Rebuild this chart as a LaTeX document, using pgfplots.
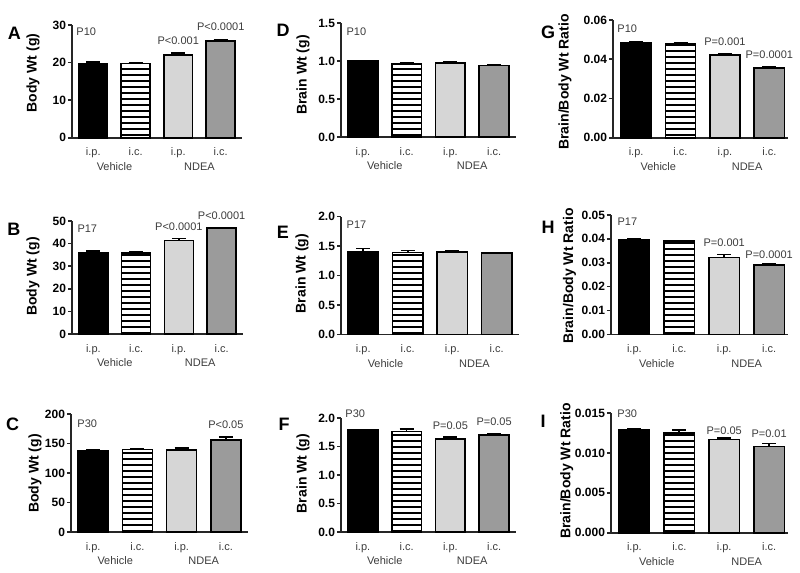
\documentclass[border=0pt]{standalone}
\usepackage{fontspec}
\setmainfont{Liberation Sans}
\usepackage{pgfplots}
\pgfplotsset{compat=1.18}
\usetikzlibrary{patterns.meta}

\definecolor{txtgray}{RGB}{60,60,60}
\definecolor{lightdot}{RGB}{214,214,214}
\definecolor{darkdot}{RGB}{155,155,155}

\tikzset{
  grp/.style={font=\fontsize{5.5}{6.5}\selectfont, text=txtgray, yshift=-14.5pt},
  pv/.style={font=\fontsize{5.5}{6.5}\selectfont, text=txtgray},
  pl/.style={font=\fontsize{5.5}{6.5}\selectfont, text=txtgray, anchor=west, inner sep=0pt},
  letter/.style={font=\bfseries\fontsize{9}{10}\selectfont},
}

\pgfplotsset{
  panel/.style={
    scale only axis, clip=false, anchor=south west,
    ybar, bar width=0.68,
    xmin=-0.5, xmax=3.5, ymin=0,
    axis x line=bottom, axis y line=left,
    axis line style={-, line width=0.8pt, black!85},
    xtick={0,1,2,3}, xticklabels={i.p.,i.c.,i.p.,i.c.},
    x tick style={draw=none},
    y tick style={line width=0.8pt, black!85},
    tick align=outside, major tick length=2pt,
    scaled y ticks=false,
    /pgf/number format/assume math mode=true,
    yticklabel style={font=\bfseries\fontsize{6}{7}\selectfont, inner sep=0.8pt},
    xticklabel style={font=\fontsize{5.5}{6.5}\selectfont, text=txtgray, yshift=0.5pt},
    ylabel style={font=\bfseries\fontsize{7}{8}\selectfont, anchor=center},
    error bars/y dir=plus, error bars/y explicit,
    error bars/error bar style={line width=0.8pt, black},
    error bars/error mark options={rotate=90, line width=0.8pt, black, mark size=3.5pt},
    execute at end axis={
      \node[grp] at (axis cs:0.5,0) {Vehicle};
      \node[grp] at (axis cs:2.5,0) {NDEA};
    },
  },
  prec1/.style={yticklabel style={/pgf/number format/fixed, /pgf/number format/fixed zerofill, /pgf/number format/precision=1}},
  prec2/.style={yticklabel style={/pgf/number format/fixed, /pgf/number format/fixed zerofill, /pgf/number format/precision=2}},
  prec3/.style={yticklabel style={/pgf/number format/fixed, /pgf/number format/fixed zerofill, /pgf/number format/precision=3}},
  b1/.style={bar shift=0pt, draw=black, line width=0.8pt, fill=black},
  b2/.style={bar shift=0pt, draw=black, line width=0.8pt, pattern={Lines[angle=0,distance=3pt,line width=0.8pt]}},
  b3/.style={bar shift=0pt, draw=black, line width=0.8pt, fill=lightdot},
  b4/.style={bar shift=0pt, draw=black, line width=0.8pt, fill=darkdot},
}

\begin{document}
\begin{tikzpicture}
\useasboundingbox (0,0) rectangle (400pt,-286.5pt);

% ---- column 1: body weight
\begin{axis}[panel, at={(36pt,-68.85pt)}, width=85pt, height=56.35pt,
  ymax=30, ytick={0,10,20,30}, ylabel={Body Wt (g)},
  ylabel style={at={(rel axis cs:-0.229,0.574)}}]
\addplot[b1] coordinates {(0,19.7) +- (0,0.5)};
\addplot[b2] coordinates {(1,19.7) +- (0,0.35)};
\addplot[b3] coordinates {(2,22.0) +- (0,0.5)};
\addplot[b4] coordinates {(3,25.8) +- (0,0.35)};
\node[pl] at (rel axis cs:0.024,0.94) {P10};
\node[pv] at (axis cs:2,25.7) {P<0.001};
\node[pv] at (axis cs:3,29.5) {P<0.0001};
\end{axis}

\begin{axis}[panel, at={(36pt,-167pt)}, width=85.5pt, height=56.5pt,
  ymax=50, ytick={0,10,20,30,40,50}, ylabel={Body Wt (g)},
  ylabel style={at={(rel axis cs:-0.228,0.509)}}]
\addplot[b1] coordinates {(0,36.0) +- (0,0.7)};
\addplot[b2] coordinates {(1,35.9) +- (0,0.5)};
\addplot[b3] coordinates {(2,41.4) +- (0,0.9)};
\addplot[b4] coordinates {(3,46.8) +- (0,0.4)};
\node[pl] at (rel axis cs:0.03,0.93) {P17};
\node[pv] at (axis cs:2,47.5) {P<0.0001};
\node[pv] at (axis cs:3,52.3) {P<0.0001};
\end{axis}

\begin{axis}[panel, at={(35.5pt,-266pt)}, width=88.5pt, height=59pt,
  ymax=200, ytick={0,50,100,150,200}, ylabel={Body Wt (g)},
  ylabel style={at={(rel axis cs:-0.203,0.496)}}]
\addplot[b1] coordinates {(0,138) +- (0,1.5)};
\addplot[b2] coordinates {(1,140) +- (0,1)};
\addplot[b3] coordinates {(2,138.5) +- (0,4)};
\addplot[b4] coordinates {(3,156) +- (0,5)};
\node[pl] at (rel axis cs:0.034,0.92) {P30};
\node[pv] at (axis cs:3,182.5) {P<0.05};
\end{axis}

% ---- column 2: brain weight
\begin{axis}[panel, prec1, at={(170.5pt,-68.5pt)}, width=87.5pt, height=57pt,
  ymax=1.5, ytick={0,0.5,1,1.5}, ylabel={Brain Wt (g)},
  ylabel style={at={(rel axis cs:-0.217,0.544)}}]
\addplot[b1] coordinates {(0,1.0) +- (0,0.005)};
\addplot[b2] coordinates {(1,0.96) +- (0,0.015)};
\addplot[b3] coordinates {(2,0.97) +- (0,0.015)};
\addplot[b4] coordinates {(3,0.94) +- (0,0.01)};
\node[pl] at (rel axis cs:0.03,0.92) {P10};
\end{axis}

\begin{axis}[panel, prec1, at={(170.5pt,-167.15pt)}, width=89pt, height=58.8pt,
  ymax=2, ytick={0,0.5,1,1.5,2}, ylabel={Brain Wt (g)},
  ylabel style={at={(rel axis cs:-0.219,0.517)}}]
\addplot[b1] coordinates {(0,1.395) +- (0,0.065)};
\addplot[b2] coordinates {(1,1.39) +- (0,0.035)};
\addplot[b3] coordinates {(2,1.40) +- (0,0.025)};
\addplot[b4] coordinates {(3,1.38) +- (0,0.01)};
\node[pl] at (rel axis cs:0.03,0.93) {P17};
\end{axis}

\begin{axis}[panel, prec1, at={(170.5pt,-266pt)}, width=87.5pt, height=57pt,
  ymax=2, ytick={0,0.5,1,1.5,2}, ylabel={Brain Wt (g)},
  ylabel style={at={(rel axis cs:-0.217,0.513)}}]
\addplot[b1] coordinates {(0,1.79) +- (0,0.008)};
\addplot[b2] coordinates {(1,1.76) +- (0,0.05)};
\addplot[b3] coordinates {(2,1.635) +- (0,0.03)};
\addplot[b4] coordinates {(3,1.70) +- (0,0.015)};
\node[pl] at (rel axis cs:0.023,1.04) {P30};
\node[pv] at (axis cs:2,1.864) {P=0.05};
\node[pv] at (axis cs:3,1.94) {P=0.05};
\end{axis}

% ---- column 3: brain/body ratio
\begin{axis}[panel, prec2, at={(306.5pt,-68.85pt)}, width=87.5pt, height=58.85pt,
  xmin=-0.52, xmax=3.42,
  ymax=0.06, ytick={0,0.02,0.04,0.06}, ylabel={Brain/Body Wt Ratio},
  ylabel style={at={(rel axis cs:-0.274,0.473)}}]
\addplot[b1] coordinates {(0,0.0483) +- (0,0.0005)};
\addplot[b2] coordinates {(1,0.0481) +- (0,0.0003)};
\addplot[b3] coordinates {(2,0.0423) +- (0,0.0005)};
\addplot[b4] coordinates {(3,0.0355) +- (0,0.0008)};
\node[pl] at (rel axis cs:0.023,0.93) {P10};
\node[pv] at (axis cs:2,0.0489) {P=0.001};
\node[pv] at (axis cs:3,0.0421) {P=0.0001};
\end{axis}

\begin{axis}[panel, prec2, at={(305.5pt,-167.15pt)}, width=88.5pt, height=59.65pt,
  xmin=-0.52, xmax=3.42,
  ymax=0.05, ytick={0,0.01,0.02,0.03,0.04,0.05}, ylabel={Brain/Body Wt Ratio},
  ylabel style={at={(rel axis cs:-0.235,0.489)}}]
\addplot[b1] coordinates {(0,0.0396) +- (0,0.0003)};
\addplot[b2] coordinates {(1,0.0390) +- (0,0.0002)};
\addplot[b3] coordinates {(2,0.0322) +- (0,0.0013)};
\addplot[b4] coordinates {(3,0.0290) +- (0,0.0006)};
\node[pl] at (rel axis cs:0.035,0.94) {P17};
\node[pv] at (axis cs:2,0.0383) {P=0.001};
\node[pv] at (axis cs:3,0.0332) {P=0.0001};
\end{axis}

\begin{axis}[panel, prec3, at={(305.5pt,-266.35pt)}, width=88.5pt, height=59.85pt,
  xmin=-0.52, xmax=3.42,
  ymax=0.015, ytick={0,0.005,0.01,0.015}, ylabel={Brain/Body Wt Ratio},
  ylabel style={at={(rel axis cs:-0.25,0.515)}}]
\addplot[b1] coordinates {(0,0.0129) +- (0,0.0001)};
\addplot[b2] coordinates {(1,0.0125) +- (0,0.0004)};
\addplot[b3] coordinates {(2,0.0117) +- (0,0.0002)};
\addplot[b4] coordinates {(3,0.0108) +- (0,0.0004)};
\node[pl] at (rel axis cs:0.034,0.99) {P30};
\node[pv] at (axis cs:2,0.01278) {P=0.05};
\node[pv] at (axis cs:3,0.01237) {P=0.01};
\end{axis}

% panel letters
\node[letter] at (7.25pt,-16.5pt) {A};
\node[letter] at (7pt,-114.75pt) {B};
\node[letter] at (6.25pt,-212pt) {C};
\node[letter] at (141.5pt,-15.25pt) {D};
\node[letter] at (141.5pt,-116pt) {E};
\node[letter] at (142pt,-212pt) {F};
\node[letter] at (274pt,-16.25pt) {G};
\node[letter] at (274pt,-113.5pt) {H};
\node[letter] at (271.5pt,-210.5pt) {I};
\end{tikzpicture}
\end{document}
